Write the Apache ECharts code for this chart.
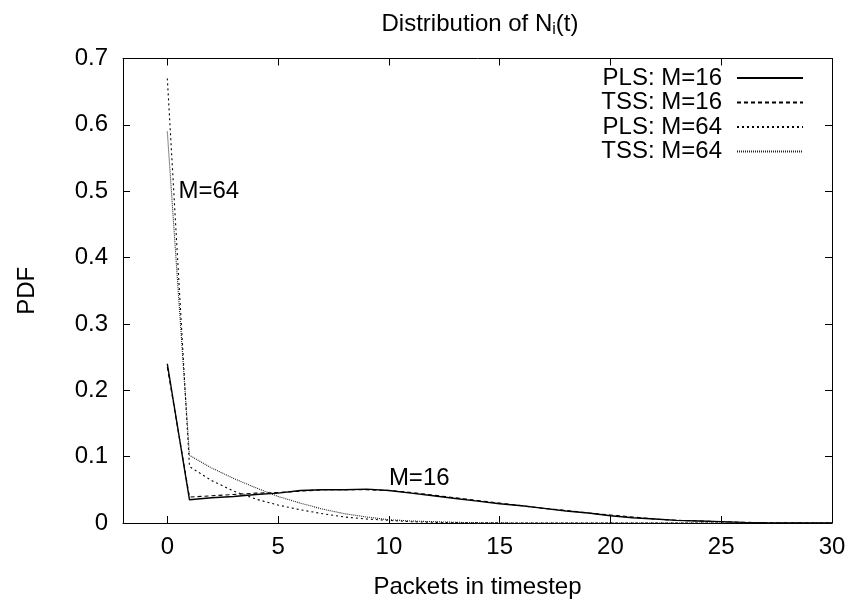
<!DOCTYPE html>
<html>
<head>
<meta charset="utf-8">
<script src="https://cdn.jsdelivr.net/npm/echarts@6/dist/echarts.min.js"></script>
<style>html,body{margin:0;padding:0;background:#fff;}#c{width:858px;height:604px;}</style>
</head>
<body>
<div id="c"></div>
<script>
var xs = [0,1,2,3,4,5,6,7,8,9,10,11,12,13,14,15,16,17,18,19,20,21,22,23,24,25,26,27,28,29,30];
var pls16 = [0.240,0.035,0.038,0.040,0.043,0.045,0.049,0.050,0.050,0.051,0.049,0.045,0.041,0.037,0.033,0.029,0.026,0.022,0.018,0.015,0.011,0.008,0.006,0.004,0.003,0.002,0.001,0.0005,0.0002,0.0001,0];
var tss16 = [0.235,0.039,0.041,0.043,0.045,0.046,0.048,0.050,0.050,0.050,0.049,0.046,0.042,0.038,0.034,0.030,0.026,0.022,0.019,0.015,0.012,0.009,0.006,0.004,0.003,0.002,0.001,0.0005,0.0002,0.0001,0];
var pls64 = [0.670,0.085,0.064,0.048,0.036,0.027,0.020,0.014,0.009,0.006,0.004,0.002,0.001,0.0005,0.0002,0.0001,0,0,0,0,0,0,0,0,0,0,0,0,0,0,0];
var tss64 = [0.590,0.102,0.083,0.067,0.053,0.040,0.030,0.021,0.014,0.009,0.005,0.003,0.002,0.001,0.0005,0.0002,0,0,0,0,0,0,0,0,0,0,0,0,0,0,0];
var seriesNames = ['PLS: M=16','TSS: M=16','PLS: M=64','TSS: M=64'];
var xTicks = [0,5,10,15,20,25,30];
var annotations = [[0.5,0.5,'M=64'],[10,0.068,'M=16']];

function pairs(ys){ return xs.map(function(x,i){ return [x, ys[i]]; }); }
var FONT = 'Liberation Sans, Arial, Helvetica, sans-serif';
var FS = 24;

var chart = echarts.init(document.getElementById('c'), null, {renderer:'canvas'});
var axisCommon = {
  axisLine:{show:true, onZero:false, lineStyle:{color:'#000', width:1}},
  axisTick:{show:true, inside:true, length:7, lineStyle:{color:'#000', width:1}},
  splitLine:{show:false}
};
var clear = 'rgba(0,0,0,0)';
chart.setOption({
  animation:false,
  backgroundColor:'#fff',
  title:{
    text:'{a|Distribution of N}{b|i}{a|(t)}',
    left:475, top:5, textAlign:'center',
    textStyle:{fontWeight:'normal', rich:{
      a:{fontFamily:FONT, fontSize:FS, fontWeight:'normal', color:'#000', lineHeight:28},
      b:{fontFamily:FONT, fontSize:16, fontWeight:'normal', color:'#000', lineHeight:14, verticalAlign:'bottom'}
    }}
  },
  grid:{left:123, right:26, top:58.5, bottom:79.5, containLabel:false},
  legend:{
    data:seriesNames, orient:'vertical', right:54, top:66, padding:0,
    align:'right', itemWidth:66, itemHeight:14, itemGap:0.5,
    itemStyle:{color:clear, borderColor:clear, borderWidth:0, opacity:0},
    textStyle:{fontFamily:FONT, fontSize:FS, color:'#000', lineHeight:24, padding:[0,10,0,0]}
  },
  xAxis:[
    Object.assign({type:'value', min:-2, max:30, position:'bottom',
      axisLabel:{show:true, customValues:xTicks, color:'#000', fontFamily:FONT, fontSize:FS, margin:12},
      name:'Packets in timestep', nameLocation:'middle', nameGap:52,
      nameTextStyle:{color:'#000', fontFamily:FONT, fontSize:FS}
    }, axisCommon, {axisTick:{show:true, inside:true, length:7, customValues:xTicks, lineStyle:{color:'#000'}}}),
    Object.assign({type:'value', min:-2, max:30, position:'top',
      axisLabel:{show:false}
    }, axisCommon, {axisTick:{show:true, inside:true, length:7, customValues:xTicks, lineStyle:{color:'#000'}}})
  ],
  yAxis:[
    Object.assign({type:'value', min:0, max:0.7, interval:0.1, position:'left',
      axisLabel:{color:'#000', fontFamily:FONT, fontSize:FS, margin:15, formatter:function(v){return v===0?'0':v.toFixed(1);}},
      name:'PDF', nameLocation:'middle', nameGap:84,
      nameTextStyle:{color:'#000', fontFamily:FONT, fontSize:FS}
    }, axisCommon),
    Object.assign({type:'value', min:0, max:0.7, interval:0.1, position:'right',
      axisLabel:{show:false}
    }, axisCommon)
  ],
  series:[
    {name:seriesNames[0], type:'line', data:pairs(pls16), symbol:'none', lineStyle:{color:'#000', width:1.4, type:'solid'}, itemStyle:{color:'#000'}},
    {name:seriesNames[1], type:'line', data:pairs(tss16), symbol:'none', lineStyle:{color:'#000', width:1.1, type:[4,3]}, itemStyle:{color:'#000'}},
    {name:seriesNames[2], type:'line', data:pairs(pls64), symbol:'none', lineStyle:{color:'#000', width:1.1, type:[2,3]}, itemStyle:{color:'#000'}},
    {name:seriesNames[3], type:'line', data:pairs(tss64), symbol:'none', lineStyle:{color:'#222', width:1.1, type:[1,1]}, itemStyle:{color:'#222'}},
    {name:'annot', type:'scatter', data:annotations, symbolSize:1, itemStyle:{color:clear, opacity:1},
     label:{show:true, position:'inside', align:'left', verticalAlign:'middle', formatter:function(p){return p.data[2];},
       color:'#000', opacity:1, fontFamily:FONT, fontSize:FS}}
  ]
});
</script>
</body>
</html>
